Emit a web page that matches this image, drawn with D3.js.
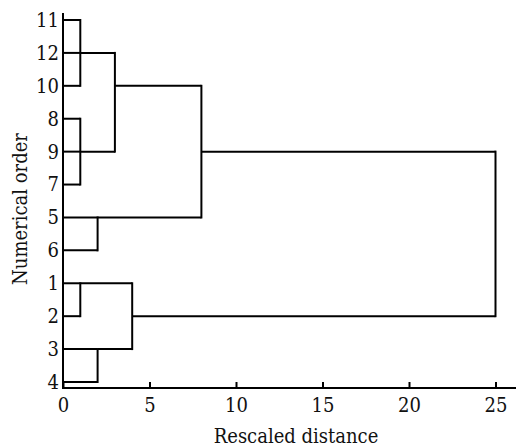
<!DOCTYPE html>
<html>
<head>
<meta charset="utf-8">
<script src="https://cdn.jsdelivr.net/npm/d3@7"></script>
<style>
  html, body { margin: 0; padding: 0; background: #fff; }
  svg { display: block; }
  svg text { font-family: "DejaVu Serif Condensed", "DejaVu Serif", serif; font-stretch: condensed; fill: #111; }
</style>
</head>
<body>
<svg id="chart" width="516" height="448"></svg>
<script>
// Leaf order, top to bottom
const leaves = ["11", "12", "10", "8", "9", "7", "5", "6", "1", "2", "3", "4"];
// Cluster merges: children, rescaled distance, row where the cluster line is drawn
const merges = [
  { id: "A", children: ["11", "12", "10"], height: 1, row: "12" },
  { id: "B", children: ["8", "9", "7"], height: 1, row: "9" },
  { id: "C", children: ["5", "6"], height: 2, row: "5" },
  { id: "D", children: ["1", "2"], height: 1, row: "1" },
  { id: "E", children: ["3", "4"], height: 2, row: "3" },
  { id: "F", children: ["A", "B"], height: 3, row: "10" },
  { id: "G", children: ["F", "C"], height: 8, row: "9" },
  { id: "H", children: ["D", "E"], height: 4, row: "2" },
  { id: "I", children: ["G", "H"], height: 25, row: null }
];
const xTicks = [0, 5, 10, 15, 20, 25];
const xTitle = "Rescaled distance";
const yTitle = "Numerical order";

const svg = d3.select("#chart");
const W = 516;
const x = d3.scaleLinear().domain([0, 25]).range([63, 495.5]);
const y = d3.scalePoint().domain(leaves).range([20, 382]);
const axisY = 388;

const info = {};
leaves.forEach(l => info[l] = { height: 0, row: l });
merges.forEach(m => info[m.id] = { height: m.height, row: m.row });

const lines = svg.append("g")
  .attr("fill", "none").attr("stroke", "#000").attr("stroke-width", 2);

merges.forEach(m => {
  const rows = m.children.map(c => y(info[c].row));
  m.children.forEach(c => {
    lines.append("line")
      .attr("x1", x(info[c].height)).attr("x2", x(m.height))
      .attr("y1", y(info[c].row)).attr("y2", y(info[c].row));
  });
  lines.append("line")
    .attr("x1", x(m.height)).attr("x2", x(m.height))
    .attr("y1", d3.min(rows) - 1).attr("y2", d3.max(rows) + 1);
});

// Bottom axis
const gx = svg.append("g").attr("transform", `translate(0,${axisY})`)
  .call(d3.axisBottom(x).tickValues(xTicks).tickSize(-6).tickSizeOuter(0).tickPadding(10));
gx.attr("font-family", null);
gx.select(".domain").remove();
gx.selectAll(".tick line").attr("stroke", "#000").attr("stroke-width", 2);
gx.selectAll(".tick text").attr("font-size", 20).attr("dy", "0.71em").attr("fill", "#111");
gx.append("line").attr("x1", x(0) - 1).attr("x2", W).attr("y1", 0).attr("y2", 0)
  .attr("stroke", "#000").attr("stroke-width", 2);

// Left axis
const gy = svg.append("g").attr("transform", `translate(${x(0)},0)`)
  .call(d3.axisLeft(y).tickSize(0).tickPadding(4));
gy.attr("font-family", null);
gy.select(".domain").remove();
gy.selectAll(".tick text").attr("font-size", 20).attr("fill", "#111");
gy.append("line").attr("x1", 0).attr("x2", 0).attr("y1", 13).attr("y2", axisY + 1)
  .attr("stroke", "#000").attr("stroke-width", 2);

// Titles
svg.append("text").attr("x", 296).attr("y", 443).attr("text-anchor", "middle")
  .attr("font-size", 20).text(xTitle);
svg.append("text").attr("transform", "translate(27,209) rotate(-90)")
  .attr("text-anchor", "middle").attr("font-size", 20).text(yTitle);
</script>
</body>
</html>
